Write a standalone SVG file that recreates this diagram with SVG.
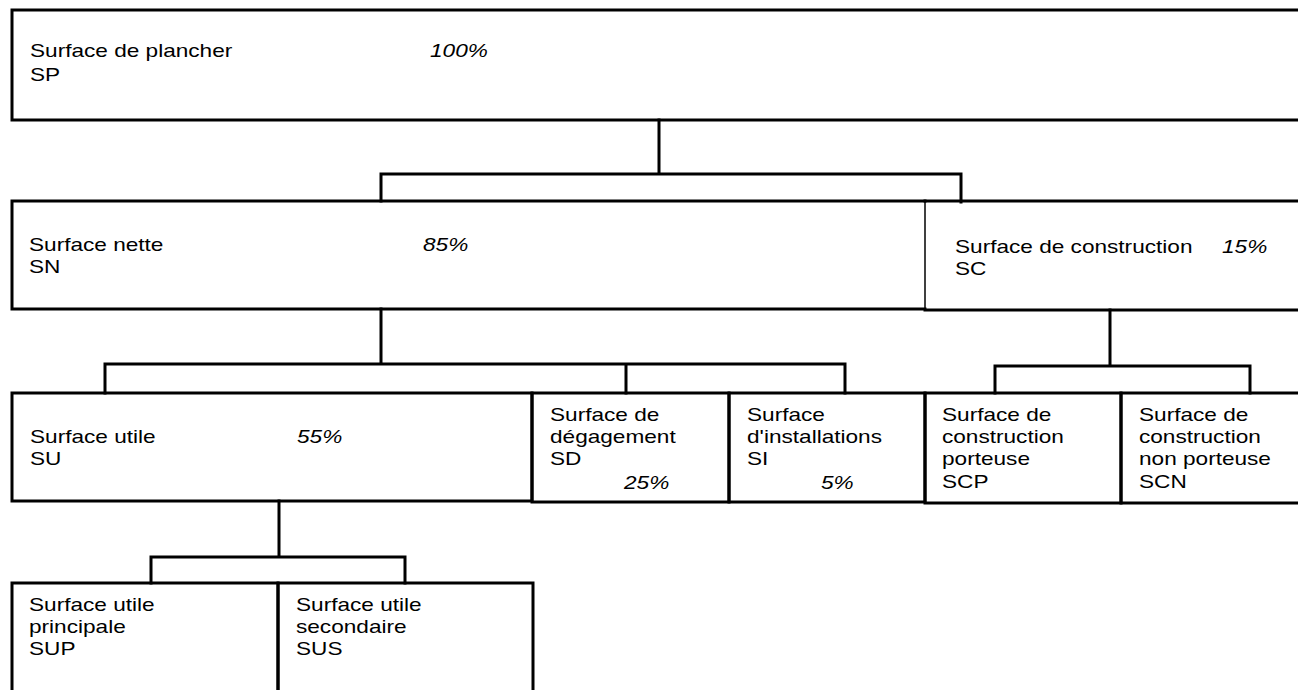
<svg xmlns="http://www.w3.org/2000/svg" width="1298" height="690" viewBox="0 0 1298 690">
<style>
.b{fill:none;stroke:#000;stroke-width:3;stroke-linecap:square}
.thin{fill:none;stroke:#000;stroke-width:1.5}
.c{fill:none;stroke:#000;stroke-width:3;stroke-linecap:square;stroke-linejoin:miter}
text{font-family:"Liberation Sans",Arial,sans-serif;font-size:19px;fill:#000}
.p{font-style:italic}
</style>
<rect width="1298" height="690" fill="#fff"/>
<g id="connectors">
<path class="c" d="M659,120 V174 M381,201 V174 H961 V202"/>
<path class="c" d="M381,309 V364 M105,393 V364 H845 V393 M626,364 V393"/>
<path class="c" d="M1110,310 V366 M995,393 V366 H1250 V393"/>
<path class="c" d="M279,501 V557 M151,583 V557 H405 V583"/>
</g>
<g id="SP">
<path class="b" d="M1302,10 H12 V120 H1302"/>
<text transform="translate(30,57) scale(1.19,1)">Surface de plancher</text>
<text transform="translate(30,81) scale(1.19,1)">SP</text>
<text class="p" transform="translate(430,57) scale(1.19,1)">100%</text>
</g>
<g id="SN">
<path class="b" d="M925,201 H12 V309 H925"/>
<text transform="translate(29,251) scale(1.19,1)">Surface nette</text>
<text transform="translate(29,273) scale(1.19,1)">SN</text>
<text class="p" transform="translate(423,251) scale(1.19,1)">85%</text>
</g>
<g id="SC">
<path class="b" d="M1302,201 H925 M925,310 H1302"/>
<line class="thin" x1="925" y1="201" x2="925" y2="310"/>
<text transform="translate(955,253) scale(1.19,1)">Surface de construction</text>
<text transform="translate(955,275) scale(1.19,1)">SC</text>
<text class="p" transform="translate(1222,253) scale(1.19,1)">15%</text>
</g>
<g id="SU">
<rect class="b" x="12" y="393" width="520" height="108"/>
<text transform="translate(30,443) scale(1.19,1)">Surface utile</text>
<text transform="translate(30,465) scale(1.19,1)">SU</text>
<text class="p" transform="translate(297,443) scale(1.19,1)">55%</text>
</g>
<g id="SD">
<rect class="b" x="532" y="393" width="197" height="109"/>
<text transform="translate(550,421) scale(1.19,1)">Surface de</text>
<text transform="translate(550,443) scale(1.19,1)">dégagement</text>
<text transform="translate(550,465) scale(1.19,1)">SD</text>
<text class="p" transform="translate(624,489) scale(1.19,1)">25%</text>
</g>
<g id="SI">
<rect class="b" x="729" y="393" width="196" height="109"/>
<text transform="translate(747,421) scale(1.19,1)">Surface</text>
<text transform="translate(747,443) scale(1.19,1)">d'installations</text>
<text transform="translate(747,465) scale(1.19,1)">SI</text>
<text class="p" transform="translate(821,489) scale(1.19,1)">5%</text>
</g>
<g id="SCP">
<rect class="b" x="925" y="393" width="196" height="110"/>
<text transform="translate(942,421) scale(1.19,1)">Surface de</text>
<text transform="translate(942,443) scale(1.19,1)">construction</text>
<text transform="translate(942,465) scale(1.19,1)">porteuse</text>
<text transform="translate(942,488) scale(1.19,1)">SCP</text>
</g>
<g id="SCN">
<path class="b" d="M1302,393 H1121 V503 H1302"/>
<text transform="translate(1139,421) scale(1.19,1)">Surface de</text>
<text transform="translate(1139,443) scale(1.19,1)">construction</text>
<text transform="translate(1139,465) scale(1.19,1)">non porteuse</text>
<text transform="translate(1139,488) scale(1.19,1)">SCN</text>
</g>
<g id="SUP">
<path class="b" d="M12,695 V583 H278 V695"/>
<text transform="translate(29,611) scale(1.19,1)">Surface utile</text>
<text transform="translate(29,633) scale(1.19,1)">principale</text>
<text transform="translate(29,655) scale(1.19,1)">SUP</text>
</g>
<g id="SUS">
<path class="b" d="M278,695 V583 H533 V695"/>
<text transform="translate(296,611) scale(1.19,1)">Surface utile</text>
<text transform="translate(296,633) scale(1.19,1)">secondaire</text>
<text transform="translate(296,655) scale(1.19,1)">SUS</text>
</g>
</svg>
